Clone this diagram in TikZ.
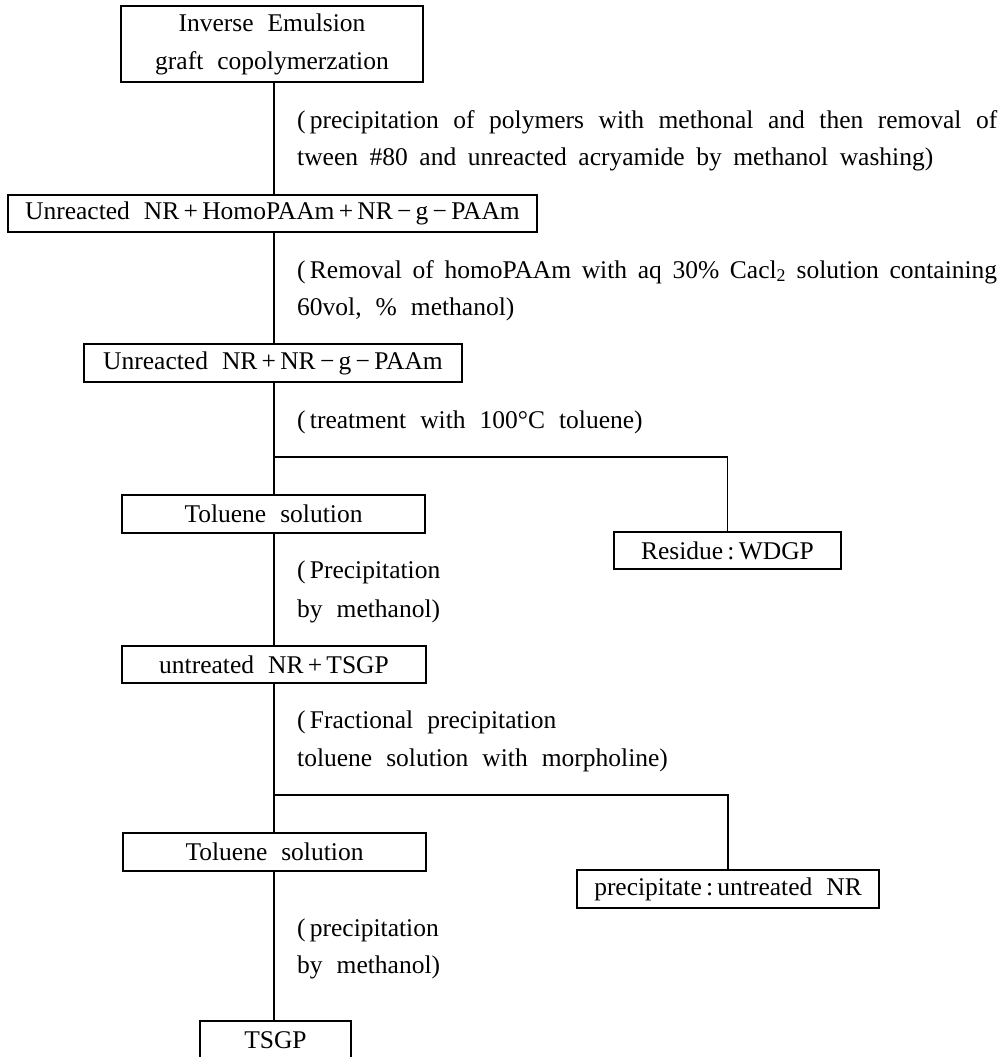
\documentclass[tikz,border=0pt]{standalone}
\usepackage{fontspec}
\setmainfont{Liberation Serif}[WordSpace=2.2]
\begin{document}
\begin{tikzpicture}[x=1pt,y=-1pt,
  every node/.style={font=\fontsize{25.5}{38}\selectfont, inner sep=0pt},
  box/.style={draw, line width=1.3pt, minimum height=38pt, align=center},
  lbl/.style={anchor=base west},
  conn/.style={line width=1.2pt}]
\useasboundingbox (0,0) rectangle (1004,1057);
% boxes
\node[box, minimum width=302pt, minimum height=76pt] (b1) at (272,44) {Inverse Emulsion\\graft copolymerzation};
\node[box, minimum width=529pt, minimum height=37pt] (b2) at (272.5,213.5) {Unreacted NR\,+\,HomoPAAm\,+\,NR\,−\,g\,−\,PAAm};
\node[box, minimum width=378pt] (b3) at (273,363) {Unreacted NR\,+\,NR\,−\,g\,−\,PAAm};
\node[box, minimum width=303pt] (b4) at (273.5,514) {Toluene solution};
\node[box, minimum width=227pt, minimum height=37pt] (b5) at (727.5,550.5) {Residue\,:\,WDGP};
\node[box, minimum width=304pt, minimum height=37pt] (b6) at (274,664.5) {untreated NR\,+\,TSGP};
\node[box, minimum width=303pt] (b7) at (274.5,852) {Toluene solution};
\node[box, minimum width=302pt] (b8) at (728,889) {precipitate\,:\,untreated NR};
\node[box, minimum width=151pt] (b9) at (275.5,1040) {TSGP};
% junctions
\coordinate (j1) at (274,457);
\coordinate (j2) at (274,795);
% connectors
\draw[conn] (j1 |- b1.south) -- (j1 |- b2.north);
\draw[conn] (j1 |- b2.south) -- (j1 |- b3.north);
\draw[conn] (j1 |- b3.south) -- (j1) -- (j1 |- b4.north);
\draw[conn] (j1) -| (b5.north);
\draw[conn] (j1 |- b4.south) -- (j1 |- b6.north);
\draw[conn] (j1 |- b6.south) -- (j2) -- (j2 |- b7.north);
\draw[conn] (j2) -| (b8.north);
\draw[conn] (j2 |- b7.south) -- (j2 |- b9.north);
% labels
\node[lbl] (l1a) at (297,128) {\makebox[700pt][s]{(\,precipitation of polymers with methonal and then removal of}};
\node[lbl] (l1b) at (297,165) {\makebox[636pt][s]{tween \#80 and unreacted acryamide by methanol washing)}};
\node[lbl] (l2a) at (297,278) {\makebox[700pt][s]{(\,Removal of homoPAAm with aq 30\% Cacl\textsubscript{2} solution containing}};
\node[lbl] (l2b) at (297,315) {60vol, \% methanol)};
\node[lbl] (l3) at (297,428) {(\,treatment with 100°C toluene)};
\node[lbl] (l4a) at (297,578) {(\,Precipitation};
\node[lbl] (l4b) at (297,617) {by methanol)};
\node[lbl] (l5a) at (297,728) {(\,Fractional precipitation};
\node[lbl] (l5b) at (297,766) {toluene solution with morpholine)};
\node[lbl] (l6a) at (297,936) {(\,precipitation};
\node[lbl] (l6b) at (297,973) {by methanol)};
\end{tikzpicture}
\end{document}
